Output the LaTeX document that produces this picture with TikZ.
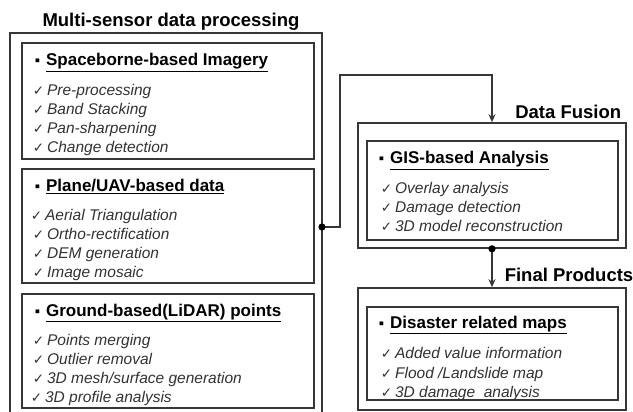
\documentclass[tikz,border=0pt]{standalone}
\usepackage{fontspec}
\setmainfont{Liberation Sans}
\newfontfamily\symfont{DejaVu Sans}
\usetikzlibrary{arrows.meta}

\definecolor{linegray}{RGB}{55,55,55}
\definecolor{itemgray}{RGB}{50,50,50}
\newcommand\chk{{\symfont\fontsize{13.5}{14}\selectfont ✓}\hspace{3pt}}
\newcommand\sqb{{\fontsize{15}{15}\selectfont ▪}\hspace{6pt}}

\tikzset{every picture/.style={line width=1.6pt}}
\tikzset{
	frame/.style={draw=linegray, line width=1.6pt},
	inbox/.style={draw=linegray, line width=1.6pt, rectangle, inner sep=0pt},
	link/.style={draw=linegray, line width=1.6pt, -{Stealth[length=8pt,width=7pt]}},
	dot/.style={fill=black},
	title/.style={inner sep=0pt, font=\bfseries\fontsize{18.5}{20}\selectfont},
	head/.style={anchor=base west, inner sep=0pt, font=\bfseries\fontsize{17}{19}\selectfont},
	item/.style={anchor=base west, inner sep=0pt, text=itemgray, font=\itshape\fontsize{15.5}{17}\selectfont},
}

\begin{document}
\begin{tikzpicture}[x=1pt,y=1pt,yscale=-1]
	\useasboundingbox (0,0) rectangle (633,412);

	%Multi-sensor frame (open at the bottom)
	\draw [frame] (10,413) |- (322,33) -- (322,413) ;
	% Text Node
	\node [title, anchor=base] (msdp) at (171,26.6) {Multi-sensor data processing};

	%Spaceborne box
	\node [inbox, minimum width=292, minimum height=116] (sbox) at (168,101) {};
	\node [head] (sbh) at (34,66) {\sqb\underline{Spaceborne-based Imagery}};
	\node [item] (sb1) at (32,95.5) {\chk Pre-processing};
	\node [item] (sb2) at (32,114.5) {\chk Band Stacking};
	\node [item] (sb3) at (32,133.5) {\chk Pan-sharpening};
	\node [item] (sb4) at (32,152.5) {\chk Change detection};

	%Plane/UAV box
	\node [inbox, minimum width=292, minimum height=114] (pbox) at (168,226) {};
	\node [head] (pbh) at (34,191) {\sqb\underline{Plane/UAV-based data}};
	\node [item] (pb1) at (30,220.5) {\chk Aerial Triangulation};
	\node [item] (pb2) at (32,239.5) {\chk Ortho-rectification};
	\node [item] (pb3) at (32,258.5) {\chk DEM generation};
	\node [item] (pb4) at (32,277.5) {\chk Image mosaic};

	%Ground-based box
	\node [inbox, minimum width=292, minimum height=114] (lbox) at (168,351) {};
	\node [head] (lbh) at (34,316) {\sqb\underline{Ground-based(LiDAR) points}};
	\node [item] (lb1) at (32,345.5) {\chk Points merging};
	\node [item] (lb2) at (32,364.5) {\chk Outlier removal};
	\node [item] (lb3) at (32,383.5) {\chk 3D mesh/surface generation};
	\node [item] (lb4) at (30,402.5) {\chk 3D profile analysis};

	%Data Fusion
	\node [inbox, minimum width=268, minimum height=125] (fusion) at (492,185.5) {};
	\node [inbox, minimum width=251, minimum height=99] (gbox) at (492.5,190.5) {};
	% Text Node
	\node [title, anchor=base east] (dft) at (622,118.6) {Data Fusion};
	\node [head] (gbh) at (378,164) {\sqb\underline{GIS-based Analysis}};
	\node [item] (gb1) at (380,193.5) {\chk Overlay analysis};
	\node [item] (gb2) at (380,212.5) {\chk Damage detection};
	\node [item] (gb3) at (380,231.5) {\chk 3D model reconstruction};

	%Final Products
	\node [inbox, minimum width=268, minimum height=122] (products) at (492,349) {};
	\node [inbox, minimum width=251, minimum height=93] (dbox) at (492.5,353.5) {};
	% Text Node
	\node [title, anchor=base west] (fpt) at (504,281.6) {Final Products};
	\node [head] (dbh) at (378,328) {\sqb\underline{Disaster related maps}};
	\node [item] (db1) at (380,358.5) {\chk Added value information};
	\node [item] (db2) at (380,378) {\chk Flood /Landslide map};
	\node [item] (db3) at (380,397.5) {\chk 3D damage\ \ analysis};

	%Connectors
	\coordinate (split) at (322,227);
	\draw [link] (split) -- (340,227) -- (340,75) -| (fusion.north) ;
	\fill [dot] (split) circle (3.6);
	\draw [link] (fusion.south) -- (products.north) ;
	\fill [dot] (fusion.south) circle (3.6);

\end{tikzpicture}
\end{document}
